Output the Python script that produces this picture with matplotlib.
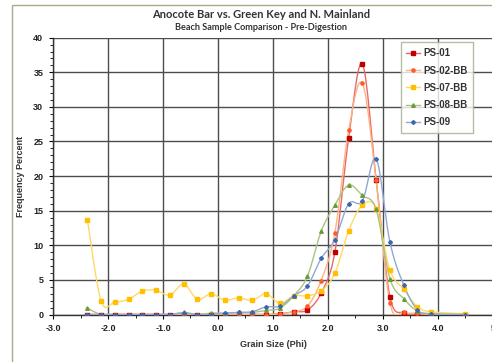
import matplotlib
matplotlib.use("Agg")
import matplotlib.pyplot as plt
from matplotlib.lines import Line2D
from matplotlib.patches import Rectangle
import numpy as np

# grain size classes (phi)
phi = [-2.375, -2.125, -1.875, -1.625, -1.375, -1.125, -0.875, -0.625, -0.375, -0.125,
       0.125, 0.375, 0.625, 0.875, 1.125, 1.375, 1.625, 1.875, 2.125, 2.375,
       2.625, 2.875, 3.125, 3.375, 3.625, 3.875, 4.5]

ps01 = [0, 0, 0, 0, 0, 0, 0, 0, 0, 0,
        0, 0, 0, 0, 0.1, 0.4, 0.65, 3.1, 9.0, 25.5,
        36.2, 19.5, 2.6, 0.2, 0.1, 0, 0]
ps02 = [0, 0, 0, 0, 0, 0, 0, 0, 0, 0,
        0, 0, 0, 0, 0.1, 0.4, 1.2, 4.9, 11.8, 26.6,
        33.4, 19.4, 1.7, 0.3, 0.2, 0, 0]
ps07 = [13.7, 1.95, 1.8, 2.2, 3.4, 3.5, 2.8, 4.4, 2.2, 3.0,
        2.05, 2.4, 2.05, 3.0, 1.6, 2.7, 2.7, 3.4, 5.95, 12.1,
        15.8, 15.3, 6.4, 3.7, 1.1, 0.4, 0.1]
ps08 = [0.9, 0, 0, 0, 0, 0, 0, 0.3, 0, 0.2,
        0.2, 0.3, 0.3, 0.6, 0.9, 2.7, 5.5, 12.0, 15.8, 18.7,
        17.2, 15.2, 5.2, 2.3, 0.5, 0.1, 0]
ps09 = [0, 0, 0, 0, 0, 0, 0, 0.2, 0, 0,
        0.2, 0.3, 0.4, 1.1, 1.2, 2.7, 4.1, 8.1, 10.8, 16.0,
        16.4, 22.5, 10.5, 4.3, 0.7, 0.1, 0]

series = [
    ("PS-01", ps01, "#E8696B", "#C00000", "s", 2.2),
    ("PS-02-BB", ps02, "#FDB47E", "#FF5A28", "o", 2.3),
    ("PS-07-BB", ps07, "#FFD966", "#FFC000", "s", 2.2),
    ("PS-08-BB", ps08, "#A9C47F", "#6E9A3A", "^", 2.6),
    ("PS-09", ps09, "#8FA9D6", "#3E67B0", "D", 2.0),
]


def smooth(x, y, n=16):
    # bezier smoothing like excel's "smoothed line"
    x = np.asarray(x, float)
    y = np.asarray(y, float)
    px = np.concatenate([[x[0]], x, [x[-1]]])
    py = np.concatenate([[y[0]], y, [y[-1]]])
    t = np.linspace(0, 1, n)
    xs, ys = [], []
    for i in range(1, len(px) - 2):
        p0 = np.array([px[i], py[i]])
        p3 = np.array([px[i + 1], py[i + 1]])
        p1 = p0 + (np.array([px[i + 1], py[i + 1]]) - np.array([px[i - 1], py[i - 1]])) / 6
        p2 = p3 - (np.array([px[i + 2], py[i + 2]]) - np.array([px[i], py[i]])) / 6
        b = ((1 - t) ** 3)[:, None] * p0 + (3 * (1 - t) ** 2 * t)[:, None] * p1 \
            + (3 * (1 - t) * t ** 2)[:, None] * p2 + (t ** 3)[:, None] * p3
        xs.extend(b[:, 0])
        ys.extend(b[:, 1])
    return np.array(xs), np.array(ys)


plt.rcParams['font.family'] = ['Liberation Sans', 'DejaVu Sans']

fig = plt.figure(figsize=(4.92, 3.62), dpi=100)
fig.patches.append(Rectangle((12 / 492, -0.1), 1.2, 1.1 - 5 / 362, transform=fig.transFigure,
                             fill=False, edgecolor="#A3AD8E", lw=1.0))

ax = fig.add_axes([53 / 492, 47.5 / 362, 440 / 492, 276.8 / 362])
ax.set_xlim(-3, 5)
ax.set_ylim(0, 40)

handles = []
for name, vals, lc, mc, mk, ms in series:
    sx, sy = smooth(phi, vals)
    ax.plot(sx, sy, color=lc, lw=1.0, zorder=3)
    ax.plot(phi, vals, ls="none", marker=mk, ms=ms, color=mc, mec=mc, zorder=4)
    handles.append(Line2D([], [], color=lc, lw=1.0, marker=mk, ms=ms, mfc=mc, mec=mc))

ax.set_xticks(np.arange(-3, 5.1, 1))
ax.set_xticklabels(["-3.0", "-2.0", "-1.0", "0.0", "1.0", "2.0", "3.0", "4.0", "5"])
ax.set_xticks(np.arange(-2.5, 5, 1), minor=True)
ax.set_yticks(np.arange(0, 41, 5))
ax.set_yticks(np.arange(0, 41, 1), minor=True)
ax.grid(True, which="major", color="#4d4d4d", lw=1.0)
ax.set_axisbelow(True)
ax.tick_params(which="major", labelsize=6.5, length=3, width=0.8, pad=4)
ax.tick_params(which="minor", length=2, width=0.6)
for lab in ax.get_xticklabels() + ax.get_yticklabels():
    lab.set_fontweight("bold")
    lab.set_color("#222222")
for s in ["top", "right"]:
    ax.spines[s].set_visible(False)
for s in ["left", "bottom"]:
    ax.spines[s].set_color("#333333")
    ax.spines[s].set_linewidth(1.0)

ax.set_xlabel("Grain Size (Phi)", fontsize=6.5, fontweight="bold", labelpad=5, color="#333333")
ax.set_ylabel("Frequency Percent", fontsize=6.5, fontweight="bold", labelpad=6, color="#333333")

fig.text(0.53, 1 - 15 / 362, "Anocote Bar vs. Green Key and N. Mainland", ha="center", va="center",
         fontsize=8, fontweight="bold", color="#333333", family=["Lato", "DejaVu Sans"])
fig.text(0.53, 1 - 27 / 362, "Beach Sample Comparison - Pre-Digestion", ha="center", va="center",
         fontsize=6.6, fontweight="bold", color="#333333", family=["Lato", "DejaVu Sans"])

leg = ax.legend(handles, [s[0] for s in series], loc="upper left", bbox_to_anchor=(0.79, 0.983),
                fontsize=7, frameon=True, fancybox=False, handlelength=1.4, handletextpad=0.3,
                labelspacing=0.75, borderpad=0.6, borderaxespad=0)
leg.get_frame().set_edgecolor("#A3AD8E")
leg.get_frame().set_linewidth(1.0)
for t in leg.get_texts():
    t.set_fontweight("bold")
    t.set_color("#333333")

fig.savefig("out.png", dpi=100)
